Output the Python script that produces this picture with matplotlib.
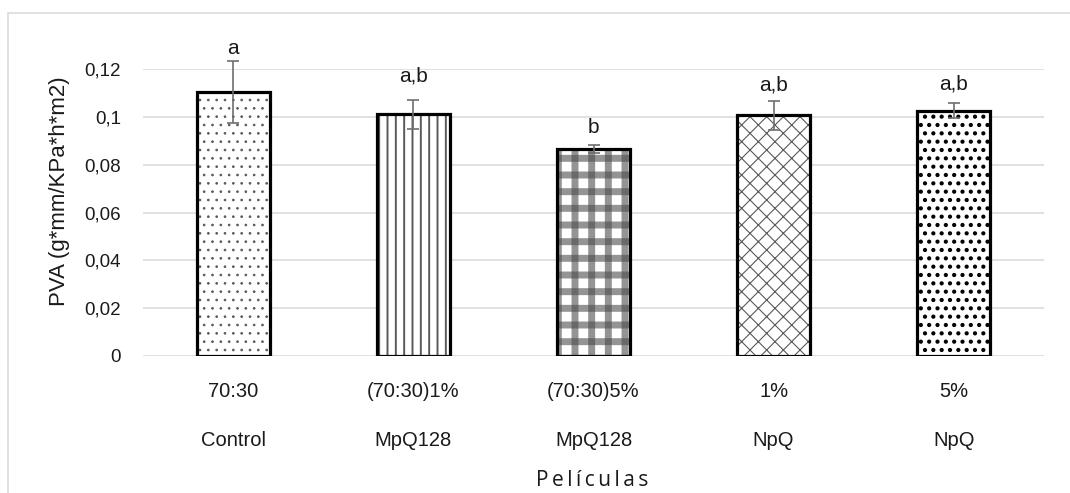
import matplotlib
matplotlib.use("Agg")
import matplotlib as mpl
import matplotlib.pyplot as plt
from matplotlib.patches import Rectangle
from matplotlib.ticker import FuncFormatter, FixedLocator

# ---------------- data ----------------
top_labels = ['70:30', '(70:30)1%', '(70:30)5%', '1%', '5%']
bottom_labels = ['Control', 'MpQ128', 'MpQ128', 'NpQ', 'NpQ']
values = [0.1104, 0.1010, 0.0866, 0.1007, 0.1025]
errors = [0.0131, 0.0062, 0.0017, 0.0060, 0.0031]
letters = ['a', 'a,b', 'b', 'a,b', 'a,b']
letter_y = [0.1262, 0.1149, 0.0933, 0.1109, 0.1116]
yticks = [0, 0.02, 0.04, 0.06, 0.08, 0.1, 0.12]
ytick_labels = ['0', '0,02', '0,04', '0,06', '0,08', '0,1', '0,12']

# ---------------- figure ----------------
W, H = 1070, 493
fig = plt.figure(figsize=(W / 100, H / 100), dpi=100)
fig.patch.set_facecolor('white')

# outer chart border (light grey), open to the right / bottom
fig.patches.append(Rectangle((7.5 / W, -0.2), 1.5, 1.2 - 12.5 / H,
                             transform=fig.transFigure, fill=False,
                             edgecolor='#d9d9d9', linewidth=1.1))

ax = fig.add_axes([143.3 / W, 1 - 356 / H, 900.4 / W, 287 / H])
x = list(range(len(values)))
BW = 0.405

GREY = '#595959'
hatch_layers = [
    [('..', GREY, 0.7)],
    [('||', GREY, 1.4)],
    [('|', (0.3, 0.3, 0.3, 0.6), 5.0), ('-', (0.3, 0.3, 0.3, 0.6), 5.0)],
    [('xx', GREY, 0.8)],
    [('..', 'black', 1.8)],
]

for i in x:
    ax.bar(x[i], values[i], BW, color='white', linewidth=0, zorder=2)
    for h, col, hlw in hatch_layers[i]:
        with mpl.rc_context({'hatch.linewidth': hlw}):
            bars = ax.bar(x[i], values[i], BW, color='none', edgecolor=col,
                          linewidth=0, hatch=h, zorder=2.5)
        for b in bars:
            if hasattr(b, 'set_hatch_linewidth'):
                b.set_hatch_linewidth(hlw)

ax.bar(x, values, BW, fill=False, edgecolor='black', linewidth=2.3, zorder=3)

eb = ax.errorbar(x, values, yerr=errors, fmt='none', ecolor='#6e6e6e',
                 elinewidth=1.2, capsize=4, capthick=1.2, zorder=5)
for art in eb.get_children():
    art.set_clip_on(False)

for i in x:
    ax.text(x[i], letter_y[i], letters[i], ha='center', va='baseline',
            fontsize=15, family=['Liberation Sans', 'DejaVu Sans'],
            color='#1a1a1a', clip_on=False)

ax.set_xlim(-0.5, len(values) - 0.5)
ax.set_ylim(0, 0.12)
ax.yaxis.set_major_locator(FixedLocator(yticks))
ax.yaxis.set_major_formatter(FuncFormatter(
    lambda v, p: ytick_labels[yticks.index(round(v, 2))] if round(v, 2) in yticks else ''))
ax.yaxis.grid(True, color='#d9d9d9', linewidth=1.1, zorder=0)
ax.set_axisbelow(True)
for s in ax.spines.values():
    s.set_visible(False)
ax.tick_params(length=0)
ax.tick_params(axis='y', pad=16, labelsize=13.5, labelcolor='#1a1a1a')
for t in ax.get_yticklabels():
    t.set_family(['Liberation Sans', 'DejaVu Sans'])

ax.set_xticks(x)
ax.set_xticklabels(top_labels)
ax.tick_params(axis='x', pad=19, labelsize=14.5, labelcolor='#1a1a1a')
for t in ax.get_xticklabels():
    t.set_family(['Liberation Sans', 'DejaVu Sans'])

for i in x:
    ax.text(x[i], -0.3153, bottom_labels[i], transform=ax.get_xaxis_transform(),
            ha='center', va='baseline', fontsize=14.5,
            family=['Liberation Sans', 'DejaVu Sans'], color='#1a1a1a')

fig.text(59 / W, 1 - 191 / H, 'PVA (g*mm/KPa*h*m2)', rotation=90,
         ha='center', va='center', fontsize=16,
         family=['Liberation Sans', 'DejaVu Sans'], color='#1a1a1a')

fig.text(592 / W, 1 - 486 / H, '\u2009'.join('Películas'),
         ha='center', va='baseline', fontsize=15,
         family=['Open Sans', 'DejaVu Sans'], color='#1a1a1a')

fig.savefig('out.png', dpi=100, facecolor='white')
